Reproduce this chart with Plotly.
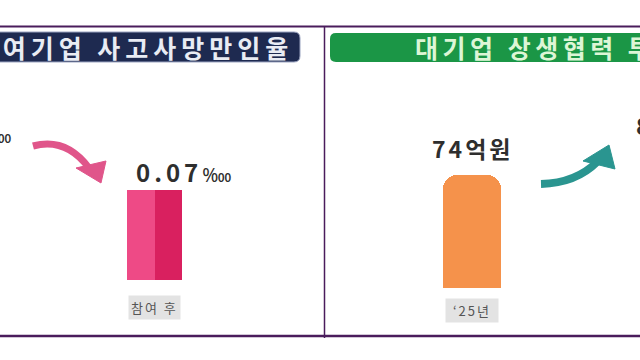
import plotly.graph_objects as go

# ---- data ----
safety_cats = ["참여 전", "참여 후"]
safety_vals = [0.10, 0.07]
safety_labels = ["0.10", "0.07"]

invest_cats = ["‘25년", "‘26년"]
invest_vals = [74, 89]
invest_labels = ["74억원", "89억원"]

title_left = "상생협력 참여기업 사고사망만인율"
title_right = "대기업 상생협력 투자액"

W, H = 640, 360
def px(x):
    return x / W
def py(y):
    return (H - y) / H
def path(cmds):
    out = []
    for c in cmds:
        if isinstance(c, str):
            out.append(c)
        else:
            out.append(f"{px(c[0]):.5f},{py(c[1]):.5f}")
    return " ".join(out)

KR = "Noto Sans CJK KR, Noto Sans"

# panel geometry (pixels per category step on each x axis)
L_STEP, R_STEP = 220, 204
L_VISIBLE, R_VISIBLE = 1, 0   # index of the category whose centre lies inside each panel

fig = go.Figure()

# left panel 3D box (two faces)
fig.add_trace(go.Bar(x=safety_cats, y=safety_vals, width=0.125, offset=-0.125,
                     marker=dict(color="#EE4A86", line=dict(width=0)),
                     xaxis="x", yaxis="y", hoverinfo="skip", showlegend=False))
fig.add_trace(go.Bar(x=safety_cats, y=safety_vals, width=0.125, offset=0,
                     marker=dict(color="#D9205F", line=dict(width=0)),
                     xaxis="x", yaxis="y", hoverinfo="skip", showlegend=False))

# right panel cylinder
fig.add_trace(go.Bar(x=invest_cats, y=invest_vals, width=0.28,
                     marker=dict(color=["#F5924B", "#DDF3F6"], line=dict(width=0), cornerradius=14),
                     xaxis="x2", yaxis="y2", hoverinfo="skip", showlegend=False))

annotations = []
lab_box = dict(bgcolor="#E3E3E3", borderpad=2, showarrow=False)
for i, (c, v, t) in enumerate(zip(safety_cats, safety_vals, safety_labels)):
    sh = (i - L_VISIBLE) * L_STEP
    anchor = safety_cats[L_VISIBLE]
    annotations.append(dict(x=anchor, y=v, xref="x", yref="y", xanchor="center", yanchor="bottom",
                            xshift=sh + 29, yshift=-1, showarrow=False,
                            text=f"<b><span style='letter-spacing:4px'>{t}</span></b>"
                                 f"<span style='font-size:19px'>‱</span>",
                            font=dict(family=KR, size=24, color="#2E2E2E")))
    annotations.append(dict(x=anchor, y=0, xref="x", yref="y", xanchor="center", yanchor="top",
                            xshift=sh, yshift=-15,
                            text=f"<span style='letter-spacing:2px'>{c}</span>",
                            font=dict(family=KR, size=13, color="#555555"), **lab_box))
for i, (c, v, t) in enumerate(zip(invest_cats, invest_vals, invest_labels)):
    sh = (i - R_VISIBLE) * R_STEP
    anchor = invest_cats[R_VISIBLE]
    annotations.append(dict(x=anchor, y=v, xref="x2", yref="y2", xanchor="center", yanchor="bottom",
                            xshift=sh, yshift=8, showarrow=False,
                            text=f"<b><span style='letter-spacing:3px'>{t}</span></b>",
                            font=dict(family=KR, size=23, color="#2E2E2E")))
    annotations.append(dict(x=anchor, y=0, xref="x2", yref="y2", xanchor="center", yanchor="top",
                            xshift=sh, yshift=-10,
                            text=f"<span style='letter-spacing:2px'> {c} </span>",
                            font=dict(family=KR, size=13, color="#555555"), **lab_box))

# header titles
annotations.append(dict(x=px(295), y=py(47), xref="paper", yref="paper", xanchor="right",
                        yanchor="middle", showarrow=False,
                        text=f"<b><span style='letter-spacing:5px'>{title_left}</span></b>",
                        font=dict(family=KR, size=25, color="#E9ECF4")))
annotations.append(dict(x=px(413), y=py(47), xref="paper", yref="paper", xanchor="left",
                        yanchor="middle", showarrow=False,
                        text=f"<b><span style='letter-spacing:4.5px'>{title_right}</span></b>",
                        font=dict(family=KR, size=25, color="#DDF6D6")))

shapes = []
def rounded_rect(x0, y0, x1, y1, r):
    return path(["M", (x0 + r, y0), "L", (x1 - r, y0), "Q", (x1, y0), (x1, y0 + r),
                 "L", (x1, y1 - r), "Q", (x1, y1), (x1 - r, y1), "L", (x0 + r, y1),
                 "Q", (x0, y1), (x0, y1 - r), "L", (x0, y0 + r), "Q", (x0, y0), (x0 + r, y0), "Z"])

shapes.append(dict(type="path", xref="paper", yref="paper", path=rounded_rect(-20, 32, 300, 62, 6),
                   fillcolor="#1E2A50", line=dict(color="#9AA3C0", width=1), layer="below"))
shapes.append(dict(type="path", xref="paper", yref="paper", path=rounded_rect(330, 33, 660, 62, 6),
                   fillcolor="#1B9646", line=dict(width=0), layer="below"))

# frame lines
shapes.append(dict(type="line", xref="paper", yref="paper", x0=0, x1=1, y0=py(26.5), y1=py(26.5),
                   line=dict(color="#4A1C5C", width=2)))
shapes.append(dict(type="line", xref="paper", yref="paper", x0=0, x1=1, y0=py(336), y1=py(336),
                   line=dict(color="#4A1C5C", width=2.5)))
shapes.append(dict(type="line", xref="paper", yref="paper", x0=px(324.5), x1=px(324.5),
                   y0=py(26.5), y1=py(338), line=dict(color="#4A1C5C", width=1.5)))

# arrows
shapes.append(dict(type="path", xref="paper", yref="paper",
                   path=path(["M", (33, 146), "Q", (66, 137), (89, 168)]),
                   line=dict(color="#E0558A", width=7)))
shapes.append(dict(type="path", xref="paper", yref="paper",
                   path=path(["M", (76, 168), "L", (106, 161), "L", (101, 183), "Z"]),
                   fillcolor="#E0558A", line=dict(color="#E0558A", width=1)))
shapes.append(dict(type="path", xref="paper", yref="paper",
                   path=path(["M", (541, 184), "Q", (576, 183), (597, 162)]),
                   line=dict(color="#2A9590", width=8)))
shapes.append(dict(type="path", xref="paper", yref="paper",
                   path=path(["M", (583, 161), "L", (609, 145), "L", (615, 169), "Z"]),
                   fillcolor="#2A9590", line=dict(color="#2A9590", width=1)))

axis_off = dict(showgrid=False, zeroline=False, showticklabels=False, showline=False, ticks="")
fig.update_layout(
    width=W, height=H, margin=dict(l=0, r=0, t=0, b=0),
    paper_bgcolor="white", plot_bgcolor="rgba(0,0,0,0)",
    barmode="overlay", bargap=0,
    xaxis=dict(domain=[0, px(324)], range=[0.295, 1.773], type="category", **axis_off),
    yaxis=dict(domain=[py(280), py(70)], range=[0, 0.07 * 210 / 90], **axis_off),
    xaxis2=dict(domain=[px(326), 1], range=[-0.7157, 0.8235], type="category", anchor="y2", **axis_off),
    yaxis2=dict(domain=[py(288), py(70)], range=[0, 74 * 218 / 113], anchor="x2", **axis_off),
    annotations=annotations, shapes=shapes,
)

fig.write_html("out.html")
